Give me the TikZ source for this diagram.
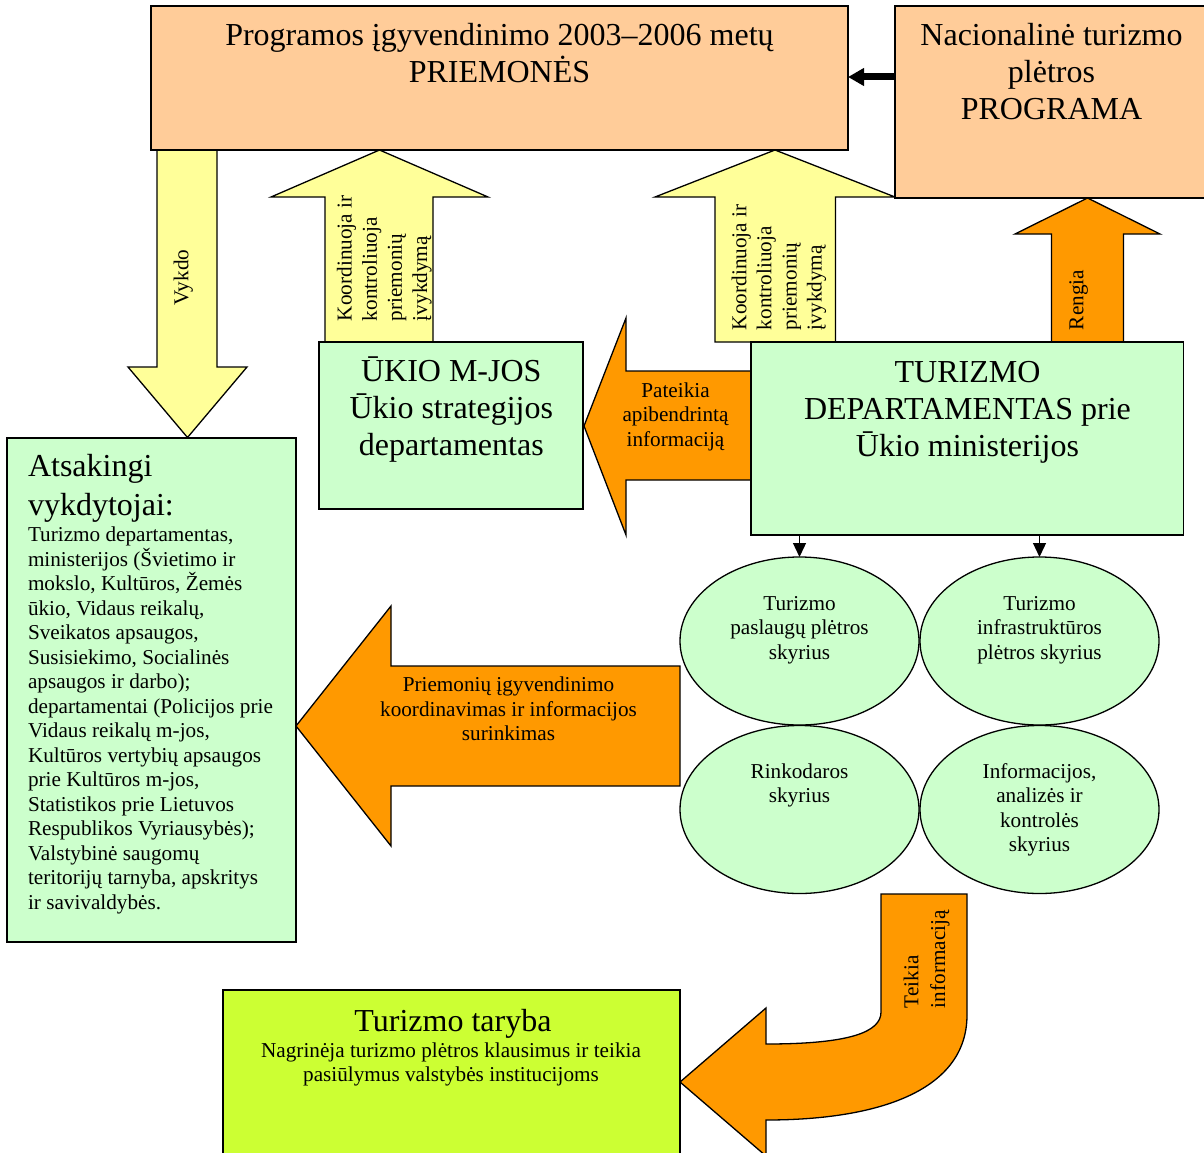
\documentclass[tikz,border=0pt]{standalone}
\usepackage{fontspec}
\setmainfont{Liberation Serif}
\usetikzlibrary{arrows.meta,shapes.geometric}
\definecolor{peach}{HTML}{FFCC99}
\definecolor{pale}{HTML}{FFFF99}
\definecolor{orng}{HTML}{FF9900}
\definecolor{mint}{HTML}{CCFFCC}
\definecolor{lime}{HTML}{CCFF33}
\newcommand{\fBig}{\fontsize{32}{37}\selectfont}
\newcommand{\fBigA}{\fontsize{32}{38.3}\selectfont}
\newcommand{\fSm}{\fontsize{21.2}{24.5}\selectfont}
\newcommand{\fSmR}{\fontsize{21.2}{25.1}\selectfont}
\newcommand{\fSmT}{\fontsize{21.2}{26.7}\selectfont}
\newcommand{\CLines}[1]{\vtop{\halign{\hfil##\hfil\cr#1\crcr}}}
\newcommand{\LLines}[1]{\vtop{\halign{##\hfil\cr#1\crcr}}}
\begin{document}
\begin{tikzpicture}[x=1pt,y=-1pt,
  box/.style={draw=black,line width=1.3pt,rectangle,inner sep=0pt,outer sep=0pt,anchor=north west},
  ell/.style={draw=black,line width=1.3pt,ellipse,fill=mint,minimum width=239pt,minimum height=168pt,inner sep=0pt,outer sep=0pt},
  txt/.style={inner sep=0pt,outer sep=0pt,text=black},
  blockarrow/.style={draw=black,line width=1.3pt,line join=miter},
  sarrow/.style={draw=black,line width=1.3pt,-{Triangle[length=14pt,width=13pt]}},
  barrow/.style={draw=black,line width=7pt,-{Triangle[length=16pt,width=17pt]}}]
\useasboundingbox (0,0) rectangle (1204,1153);
\fill[white] (0,0) rectangle (1204,1153);
\clip (0,0) rectangle (1204,1153);

% block arrows
\draw[blockarrow,fill=pale] (157,150) -- (217,150) -- (217,367) -- (247,367) -- (187.5,437.5) -- (128,367) -- (157,367) -- cycle;
\draw[blockarrow,fill=pale] (325,342) -- (325,197) -- (271,197) -- (379.5,150) -- (488,197) -- (433,197) -- (433,342) -- cycle;
\draw[blockarrow,fill=pale] (715,342) -- (715,197) -- (655,197) -- (775,150) -- (895,197) -- (835.5,197) -- (835.5,342) -- cycle;
\draw[blockarrow,fill=orng] (1051.5,342) -- (1051.5,234) -- (1015,234) -- (1087.5,198) -- (1160,234) -- (1123.5,234) -- (1123.5,342) -- cycle;
\draw[blockarrow,fill=orng] (751,371) -- (626,371) -- (626,318) -- (584,426) -- (626,535) -- (626,480) -- (751,480) -- cycle;
\draw[blockarrow,fill=orng] (680,666) -- (391,666) -- (391,606) -- (296,726) -- (391,846) -- (391,786) -- (680,786) -- cycle;
\draw[blockarrow,fill=orng] (881,894) -- (967,894) -- (967,1015)
   .. controls (967,1090) and (880,1120) .. (766,1120) -- (766,1156) -- (680,1082) -- (766,1008) -- (766,1044)
   .. controls (850,1044) and (881,1032) .. (881,1012) -- cycle;

% boxes
\node[box,fill=peach,minimum width=697pt,minimum height=144pt] (prog) at (151,6) {};
\node[box,fill=peach,minimum width=315pt,minimum height=192pt] (nac) at (895,6) {};
\node[box,fill=mint,minimum width=264pt,minimum height=167pt] (ukio) at (319,342) {};
\node[box,fill=mint,minimum width=432.6pt,minimum height=193pt] (tur) at (751,342) {};
\node[box,fill=mint,minimum width=289pt,minimum height=504pt] (atsak) at (7,438) {};
\node[box,fill=lime,minimum width=457pt,minimum height=180pt] (taryba) at (223,990) {};

% ellipses
\node[ell] (e1) at (799.5,641) {};
\node[ell] (e2) at (1039.5,641) {};
\node[ell] (e3) at (799.5,809.5) {};
\node[ell] (e4) at (1039.5,809.5) {};

% connectors
\draw[barrow] ([yshift=-71pt]nac.north west) -- ([yshift=-71pt]prog.north east);
\draw[sarrow] (e1.north |- tur.south) -- (e1.north);
\draw[sarrow] (e2.north |- tur.south) -- (e2.north);

% texts
\node[txt,font=\fBig,anchor=base] (progT) at (499.5,45.5) {\CLines{Programos įgyvendinimo 2003–2006 metų\cr PRIEMONĖS}};
\node[txt,font=\fBig,anchor=base] (nacT) at (1051.5,45.7) {\CLines{Nacionalinė turizmo\cr plėtros\cr PROGRAMA}};
\node[txt,font=\fBig,anchor=base] (turT) at (967.5,382) {\CLines{TURIZMO\cr DEPARTAMENTAS prie\cr Ūkio ministerijos}};
\node[txt,font=\fBig,anchor=base] (ukioT) at (451.3,381.7) {\CLines{ŪKIO M-JOS\cr Ūkio strategijos\cr departamentas}};
\node[txt,font=\fBigA,anchor=base west] (atsH) at (28,476.7) {\LLines{Atsakingi\cr vykdytojai:}};
\node[txt,font=\fSm,anchor=base west] (atsB) at (28,541.7) {\LLines{Turizmo departamentas,\cr ministerijos (Švietimo ir\cr mokslo, Kultūros, Žemės\cr ūkio, Vidaus reikalų,\cr Sveikatos apsaugos,\cr Susisiekimo, Socialinės\cr apsaugos ir darbo);\cr departamentai (Policijos prie\cr Vidaus reikalų m-jos,\cr Kultūros vertybių apsaugos\cr prie Kultūros m-jos,\cr Statistikos prie Lietuvos\cr Respublikos Vyriausybės);\cr Valstybinė saugomų\cr teritorijų tarnyba, apskritys\cr ir savivaldybės.}};
\node[txt,font=\fSm,anchor=base] (pateikT) at (675.5,397) {\CLines{Pateikia\cr apibendrintą\cr informaciją}};
\node[txt,font=\fSm,anchor=base] (priemT) at (508.5,691.7) {\CLines{Priemonių įgyvendinimo\cr koordinavimas ir informacijos\cr surinkimas}};
\node[txt,font=\fSm,anchor=base] (e1T) at (799.5,610) {\CLines{Turizmo\cr paslaugų plėtros\cr skyrius}};
\node[txt,font=\fSm,anchor=base] (e2T) at (1039.5,610) {\CLines{Turizmo\cr infrastruktūros\cr plėtros skyrius}};
\node[txt,font=\fSm,anchor=base] (e3T) at (799.5,778.3) {\CLines{Rinkodaros\cr skyrius}};
\node[txt,font=\fSm,anchor=base] (e4T) at (1039.5,778.3) {\CLines{Informacijos,\cr analizės ir\cr kontrolės\cr skyrius}};
\node[txt,font=\fBig,anchor=base] (tarH) at (453,1031) {Turizmo taryba};
\node[txt,font=\fSm,anchor=base] (tarB) at (451,1057.3) {\CLines{Nagrinėja turizmo plėtros klausimus ir teikia\cr pasiūlymus valstybės institucijoms}};
\node[txt,font=\fSmR,rotate=90,anchor=base west] (vykT) at (188.3,305) {Vykdo};
\node[txt,font=\fSmR,rotate=90,anchor=base west] (koo1T) at (351.7,321) {\LLines{Koordinuoja ir\cr kontroliuoja\cr priemonių\cr įvykdymą}};
\node[txt,font=\fSmR,rotate=90,anchor=base west] (koo2T) at (746.3,330) {\LLines{Koordinuoja ir\cr kontroliuoja\cr priemonių\cr įvykdymą}};
\node[txt,font=\fSmR,rotate=90,anchor=base west] (renT) at (1083.4,330) {Rengia};
\node[txt,font=\fSmT,rotate=90,anchor=base west] (teiT) at (918.3,1008) {\LLines{Teikia\cr informaciją}};
\end{tikzpicture}
\end{document}
